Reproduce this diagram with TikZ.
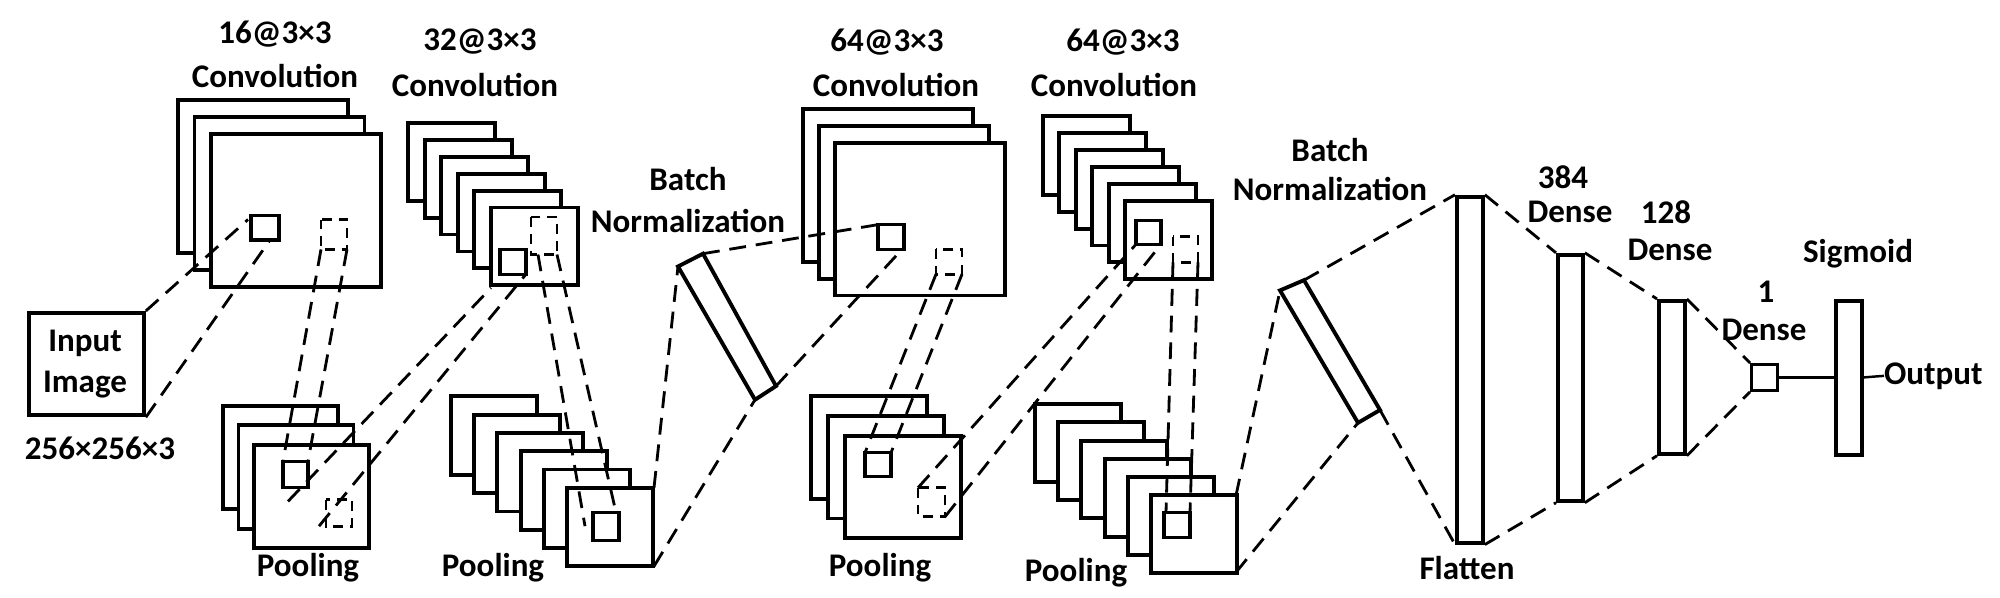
\documentclass[tikz,border=0pt]{standalone}
\usepackage{fontspec}
\setmainfont{Carlito}
\begin{document}
\begin{tikzpicture}[x=0.05cm,y=-0.042715cm,
  lay/.style={draw,fill=white,line width=5.5pt},
  box/.style={draw,line width=5.5pt,fill=white},
  dsh/.style={line width=4pt,dash pattern=on 24pt off 14pt},
  dbox/.style={line width=4pt,dash pattern=on 14pt off 10pt},
  lbl/.style={font=\fontsize{47}{54}\selectfont\bfseries,inner sep=0pt}]
\useasboundingbox (0,0) rectangle (2000,700);
\newcommand\lstack[7]{\foreach \i in {1,...,#7}{\draw[lay] ({#1+(\i-1)*#5},{#2+(\i-1)*#6}) rectangle ++(#3,#4);}}
% stacks
\lstack{178}{117}{170}{179}{16.5}{20}{3}
\lstack{223}{475}{115}{121}{15.5}{23}{3}
\lstack{408}{144}{87}{91}{16.6}{19.8}{6}
\lstack{451}{464}{86}{92}{23.2}{21.4}{6}
\lstack{803}{128}{170}{179}{16}{19.5}{3}
\lstack{811}{464}{116}{120}{17}{23}{3}
\lstack{1043}{136}{87}{92}{16.4}{19.8}{6}
\lstack{1035}{473}{86}{91}{23.2}{21.4}{6}
% small squares
\draw[box,line width=4.5pt,fill=none] (251,252) rectangle (279,281);
\draw[dbox] (321,257) rectangle (347,292);
\draw[box,line width=4.5pt,fill=none] (283,540) rectangle (308,571);
\draw[dbox] (326,585) rectangle (352,616);
\draw[box,line width=4.5pt,fill=none] (500,292) rectangle (526,321);
\draw[dbox] (531,254) rectangle (557,298);
\draw[box,line width=4.5pt,fill=none] (593,600) rectangle (619,633);
\draw[box,line width=4.5pt,fill=none] (878,263) rectangle (904,292);
\draw[dbox] (936,292) rectangle (962,321);
\draw[box,line width=4.5pt,fill=none] (865,530) rectangle (891,558);
\draw[dbox] (918,571) rectangle (945,605);
\draw[box,line width=4.5pt,fill=none] (1136,258) rectangle (1161,286);
\draw[dbox] (1173,277) rectangle (1198,307);
\draw[box,line width=4.5pt,fill=none] (1164,600) rectangle (1190,629);
% input
\node[box,minimum width=115*0.05cm,minimum height=120*0.042715cm,inner sep=0pt,anchor=north west] (in) at (27,364) {};
\node[lbl,align=center] at (85,426) {Input\\[4pt]Image};
\node[lbl] at (100,525) {256×256×3};
% batch norms
\draw[box] (678,312) -- (703,297) -- (776,452) -- (755,468) -- cycle;
\draw[box] (1280,340) -- (1304,328) -- (1380,480) -- (1358,495) -- cycle;
% dense
\node[box,anchor=north west,minimum width=26*0.05cm,minimum height=405*0.042715cm,inner sep=0pt] (fl) at (1455,228) {};
\node[box,anchor=north west,minimum width=25*0.05cm,minimum height=288*0.042715cm,inner sep=0pt] (d384) at (1556,296) {};
\node[box,anchor=north west,minimum width=26*0.05cm,minimum height=179*0.042715cm,inner sep=0pt] (d128) at (1657,350) {};
\node[box,line width=4.5pt,anchor=north west,minimum width=26*0.05cm,minimum height=30*0.042715cm,inner sep=0pt] (d1) at (1750,425) {};
\node[box,anchor=north west,minimum width=26*0.05cm,minimum height=180*0.042715cm,inner sep=0pt] (sg) at (1834,350) {};
\coordinate (outc) at (1884,440);
\draw[line width=3.5pt] (d1.east) -- (d1.east -| sg.west);
\draw[line width=3.5pt] (d1.east -| sg.east) -- (outc);
% dashed connectors
\draw[dsh] (in.north east) -- (248,257);
\draw[dsh] (in.south east) -- (270,281);
\draw[dsh] (321,292) -- (283,540);
\draw[dsh] (347,292) -- (308,540);
\draw[dsh] (288,587) -- (491,337);
\draw[dsh] (319,616) -- (526,321);
\draw[dsh] (538,298) -- (585,616);
\draw[dsh] (557,298) -- (616,600);
\draw[dsh] (654,571) -- (678,312);
\draw[dsh] (654,663) -- (755,468);
\draw[dsh] (703,297) -- (878,263);
\draw[dsh] (776,452) -- (902,292);
\draw[dsh] (936,321) -- (865,530);
\draw[dsh] (962,321) -- (891,530);
\draw[dsh] (918,571) -- (1136,286);
\draw[dsh] (945,605) -- (1161,286);
\draw[dsh] (1173,307) -- (1166,600);
\draw[dsh] (1198,307) -- (1190,600);
\draw[dsh] (1236,580) -- (1280,340);
\draw[dsh] (1236,670) -- (1358,495);
\draw[dsh] (1304,328) -- (fl.north west);
\draw[dsh] (1380,480) -- (fl.south west);
\draw[dsh] (fl.north east) -- (d384.north west);
\draw[dsh] (fl.south east) -- (d384.south west);
\draw[dsh] (d384.north east) -- (d128.north west);
\draw[dsh] (d384.south east) -- (d128.south west);
\draw[dsh] (d128.north east) -- (d1.north west);
\draw[dsh] (d128.south east) -- (d1.south west);
% labels
\node[lbl] at (275,40) {16@3×3};
\node[lbl] at (275,89) {Convolution};
\node[lbl] at (480,49) {32@3×3};
\node[lbl] at (475,100) {Convolution};
\node[lbl] at (887,49) {64@3×3};
\node[lbl] at (896,100) {Convolution};
\node[lbl] at (1123,49) {64@3×3};
\node[lbl] at (1114,100) {Convolution};
\node[lbl] at (308,665) {Pooling};
\node[lbl] at (493,665) {Pooling};
\node[lbl] at (880,665) {Pooling};
\node[lbl] at (1076,670) {Pooling};
\node[lbl] at (688,210) {Batch};
\node[lbl] at (688,259) {Normalization};
\node[lbl] at (1330,176) {Batch};
\node[lbl] at (1330,221) {Normalization};
\node[lbl] at (1467,665) {Flatten};
\node[lbl] at (1563,208) {384};
\node[lbl] at (1570,248) {Dense};
\node[lbl] at (1666,248) {128};
\node[lbl] at (1670,292) {Dense};
\node[lbl] at (1766,342) {1};
\node[lbl] at (1764,386) {Dense};
\node[lbl] at (1858,297) {Sigmoid};
\node[lbl,anchor=west] at (outc) {Output};
\end{tikzpicture}
\end{document}
